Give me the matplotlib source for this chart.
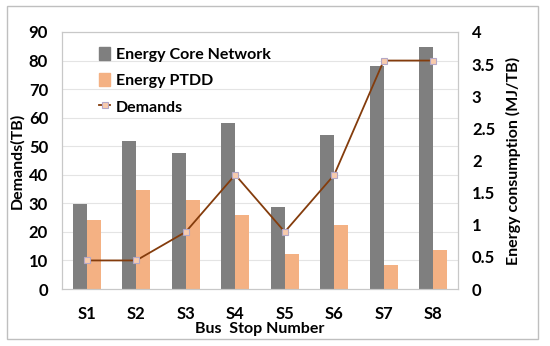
import numpy as np
import matplotlib.pyplot as plt
from matplotlib.lines import Line2D
from matplotlib.patches import Patch, Rectangle

# Data
stops = ['S1', 'S2', 'S3', 'S4', 'S5', 'S6', 'S7', 'S8']
demands = [10, 10, 20, 40, 20, 40, 80, 80]  # TB, left axis
energy_core = [1.33, 2.30, 2.12, 2.58, 1.27, 2.40, 3.47, 3.77]  # MJ/TB, right axis
energy_ptdd = [1.08, 1.54, 1.38, 1.15, 0.54, 0.99, 0.38, 0.61]

gray = '#7f7f7f'
orange = '#f4b183'
brown = '#843c0c'

plt.rcParams['font.family'] = ['Lato', 'DejaVu Sans']
plt.rcParams['font.weight'] = 'bold'
plt.rcParams['axes.labelweight'] = 'bold'

fig = plt.figure(figsize=(5.5, 3.46), dpi=100)
ax = fig.add_axes([62 / 550, 1 - 289 / 346, (458 - 62) / 550, (289 - 32) / 346])
ax2 = ax.twinx()

x = np.arange(len(stops))
w = 0.28
ax2.bar(x - w / 2, energy_core, w, color=gray, zorder=2)
ax2.bar(x + w / 2, energy_ptdd, w, color=orange, zorder=2)
ax2.set_ylim(0, 4)
ax2.set_yticks([0, 0.5, 1, 1.5, 2, 2.5, 3, 3.5, 4])
ax2.set_yticklabels(['0', '0.5', '1', '1.5', '2', '2.5', '3', '3.5', '4'])

# line drawn on top of the bars
ax.set_zorder(ax2.get_zorder() + 1)
ax.patch.set_visible(False)
ax.plot(x, demands, color=brown, lw=1.3, marker='s', ms=5,
        mfc='#f8cbad', mec='#b4a7c6', mew=0.8, zorder=3)
ax.set_ylim(0, 90)
ax.set_yticks(range(0, 91, 10))
ax.set_xlim(-0.5, 7.5)
ax.set_xticks(x)
ax.set_xticklabels(stops)

# gridlines on the bar axis so they sit behind the bars
for v in np.arange(10, 91, 10):
    ax2.axhline(v / 22.5, color='#e4e4e4', lw=0.8, zorder=0)

for a in (ax, ax2):
    for s in a.spines.values():
        s.set_color('#c8c8c8')
        s.set_linewidth(0.8)
    a.tick_params(length=0, labelsize=12)
ax.tick_params(axis='x', pad=12)
ax.tick_params(axis='y', pad=10)
ax2.tick_params(axis='y', pad=10)

ax.set_ylabel('Demands(TB)', fontsize=11.5, labelpad=3)
ax2.set_ylabel('Energy consumption (MJ/TB)', fontsize=11.5, labelpad=8)
ax.set_xlabel('Bus  Stop Number', fontsize=11.5, labelpad=0)

handles = [Patch(color=gray), Patch(color=orange),
           Line2D([], [], color=brown, lw=1.3, marker='s', ms=5,
                  mfc='#f8cbad', mec='#b4a7c6', mew=0.8)]
labels = ['Energy Core Network', 'Energy PTDD', 'Demands']
ax.legend(handles, labels, loc='upper left', bbox_to_anchor=(0.07, 0.98),
          frameon=False, fontsize=11.5, handlelength=0.7, handleheight=0.9,
          handletextpad=0.35, labelspacing=0.7, borderaxespad=0.2)

# outer frame around the whole chart
fig.patches.append(Rectangle((7 / 550, 1 - 339 / 346), 531 / 550, 333 / 346,
                             transform=fig.transFigure, fill=False,
                             edgecolor='#bfbfbf', lw=1.0))

fig.savefig('out.png', dpi=100)
